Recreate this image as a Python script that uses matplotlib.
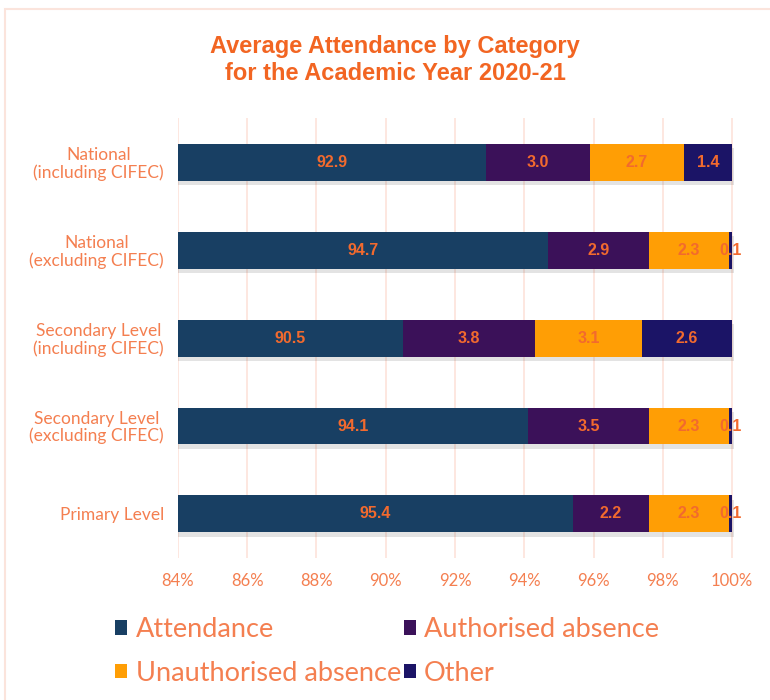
import numpy as np
import matplotlib.pyplot as plt
from matplotlib import patheffects
from matplotlib.patches import Rectangle

categories = ['National\n(including CIFEC)', 'National\n(excluding CIFEC)',
              'Secondary Level\n(including CIFEC)', 'Secondary Level\n(excluding CIFEC)',
              'Primary Level']
attendance = [92.9, 94.7, 90.5, 94.1, 95.4]
authorised = [3.0, 2.9, 3.8, 3.5, 2.2]
unauthorised = [2.7, 2.3, 3.1, 2.3, 2.3]
other = [1.4, 0.1, 2.6, 0.1, 0.1]
series_names = ['Attendance', 'Authorised absence', 'Unauthorised absence', 'Other']
xticks = [84, 86, 88, 90, 92, 94, 96, 98, 100]

colours = ['#183f63', '#3b1159', '#ff9e05', '#1b1466']
orange = '#f26a2e'
light_orange = '#f47f50'
grid_pink = '#fde3da'

fig = plt.figure(figsize=(7.7, 7.0), dpi=100)
ax = fig.add_axes([0.231, 0.203, 0.722, 0.628])

# light frame round the chart
fig.patches.append(Rectangle((0.007, -0.05), 1.2, 1.037, transform=fig.transFigure,
                             fill=False, edgecolor='#fbe4dc', linewidth=1.5))

y = np.arange(len(categories))
series = [attendance, authorised, unauthorised, other]
left = np.zeros(len(categories))
shadow = [patheffects.SimplePatchShadow(offset=(1.5, -3), alpha=0.15, shadow_rgbFace='#444444'),
          patheffects.Normal()]
handles = []
for name, vals, col in zip(series_names, series, colours):
    vals = np.array(vals)
    bars = ax.barh(y, vals, left=left, height=0.42, color=col, label=name,
                   zorder=3, path_effects=shadow)
    handles.append(bars)
    for yi, l, v in zip(y, left, vals):
        lo = max(l, 84)
        ax.text((lo + l + v) / 2, yi, f'{v:.1f}', ha='center', va='center',
                color=orange, fontsize=11.5, fontweight='bold',
                family='Liberation Sans', zorder=4)
    left = left + vals

ax.set_xlim(84, 100.05)
ax.set_ylim(len(categories) - 0.5, -0.5)
ax.set_yticks(y)
ax.set_yticklabels(categories, color=light_orange, fontsize=12.5, family='Lato',
                   multialignment='center', linespacing=1.05)
ax.set_xticks(xticks)
ax.set_xticklabels([f'{t}%' for t in xticks], color=light_orange, fontsize=12,
                   family='Lato')
ax.tick_params(axis='y', length=0, pad=10)
ax.tick_params(axis='x', length=0, pad=11)
ax.grid(axis='x', color=grid_pink, linewidth=1.2, zorder=0)
for s in ax.spines.values():
    s.set_visible(False)

fig.text(0.513, 0.914, 'Average Attendance by Category\nfor the Academic Year 2020-21',
         ha='center', va='center', color='#f26522', fontsize=17,
         fontweight='bold', family='Liberation Sans', linespacing=1.2)

# legend filled row by row: matplotlib fills columns, so reorder
order = [0, 2, 1, 3]
leg = fig.legend([handles[i] for i in order], [series_names[i] for i in order],
                 loc='upper left', bbox_to_anchor=(0.118, 0.153), ncol=2,
                 frameon=False, prop={'family': 'Lato', 'size': 19.5},
                 handlelength=0.45, handleheight=0.45, handletextpad=0.3,
                 columnspacing=0.1, labelspacing=0.68)
for t in leg.get_texts():
    t.set_color(light_orange)
for h in leg.legend_handles:
    h.set_path_effects([])

fig.savefig('out.png', dpi=100)
